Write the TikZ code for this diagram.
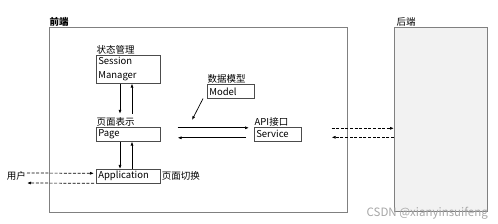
\documentclass[tikz,border=0pt]{standalone}
\usepackage{fontspec}
\setmainfont{Noto Sans CJK SC}
\usetikzlibrary{arrows.meta}

\begin{document}
\begin{tikzpicture}[x=1pt, y=-1pt, every node/.style={font=\fontsize{9.5}{14}\selectfont, inner sep=1pt},
    box/.style={draw=black!70, line width=0.6pt, minimum height=14pt, inner xsep=2pt, text width=60pt, align=left, anchor=north west},
    lbl/.style={anchor=south west, inner sep=0.5pt},
    arr/.style={-{Latex[length=4pt,width=3pt]}, line width=0.7pt},
    darr/.style={arr, dash pattern=on 3pt off 1.6pt}]
    \useasboundingbox (0,0) rectangle (498,224);
    % frontend and backend frames
    \node[draw=black!50, line width=0.8pt, minimum width=298pt, minimum height=185pt, anchor=north west] (front) at (49,27) {};
    \node[lbl, font=\fontsize{9.5}{11}\selectfont\bfseries] (frontlbl) at (front.north west) {前端};
    \node[draw=black!50, fill=black!5, line width=0.8pt, minimum width=93pt, minimum height=184pt, anchor=north west] (back) at (394,27) {};
    \node[lbl, xshift=2pt] (backlbl) at (back.north west) {后端};
    % modules
    \node[box, minimum height=28pt] (sm) at (96,55) {Session\\Manager};
    \node[lbl] (smlbl) at (sm.north west) {状态管理};
    \node[box, text width=43pt] (model) at (207,84) {Model};
    \node[lbl] (modellbl) at (model.north west) {数据模型};
    \node[box] (page) at (96,127) {Page};
    \node[lbl] (pagelbl) at (page.north west) {页面表示};
    \node[box] (app) at (96,169) {Application};
    \node[anchor=west] (applbl) at (app.east) {页面切换};
    \node[box, text width=43pt] (svc) at (254,127) {Service};
    \node[lbl] (svclbl) at (svc.north west) {API接口};
    \node[anchor=east] (user) at (27,176) {用户};
    \coordinate (mdlend) at (192,120);
    % connectors
    \draw[arr] ([xshift=24pt]sm.south west) -- ([xshift=24pt,yshift=3pt]pagelbl.north west);
    \draw[arr] ([xshift=36pt,yshift=3pt]pagelbl.north west) -- ([xshift=36pt]sm.south west);
    \draw[arr] ([xshift=24pt]page.south west) -- ([xshift=24pt]app.north west);
    \draw[arr] ([xshift=36pt]app.north west) -- ([xshift=36pt]page.south west);
    \draw[arr] ([xshift=-4pt]model.south west) -- (mdlend);
    \draw[arr] ([xshift=17pt,yshift=6.5pt]page.east) -- ([xshift=-5pt,yshift=6.5pt]svc.west);
    \draw[arr] ([xshift=-8pt,yshift=-3.5pt]svc.west) -- ([xshift=17pt,yshift=-3.5pt]page.east);
    \draw[darr] ([xshift=30pt,yshift=6pt]svc.east) -- ([yshift=6pt]svc.east -| back.west);
    \draw[darr] ([yshift=-3pt]svc.east -| back.west) -- ([xshift=30pt,yshift=-3pt]svc.east);
    \draw[darr] ([yshift=3pt]user.east) -- ([xshift=-2pt,yshift=3pt]app.west);
    \draw[darr] ([xshift=-2pt,yshift=-7pt]app.west) -- ([yshift=-7pt]user.east);
    \node[anchor=south east, text=black!35, font=\fontsize{11.5}{13}\selectfont] (mark) at (489,221) {CSDN @xianyinsuifeng};
\end{tikzpicture}
\end{document}
